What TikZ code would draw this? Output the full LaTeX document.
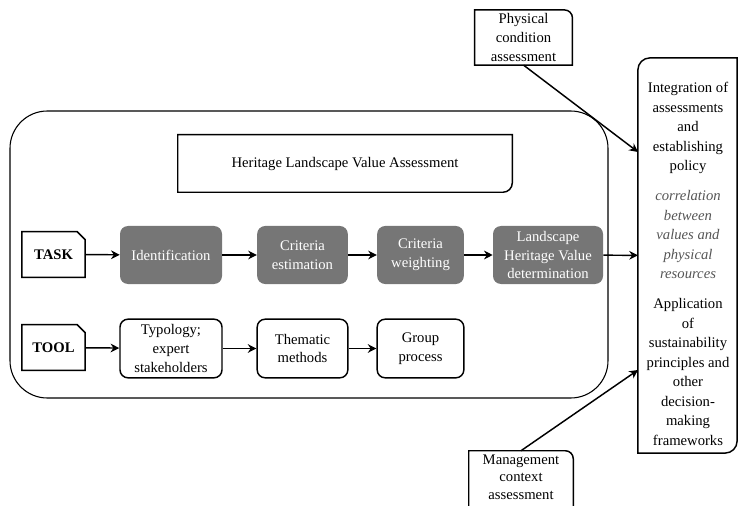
\documentclass[tikz,border=0pt]{standalone}
\usepackage{fontspec}
\setmainfont{Liberation Serif}
\usetikzlibrary{arrows.meta}
\definecolor{hlvgray}{RGB}{118,118,118}
\definecolor{hlvtext}{RGB}{85,85,85}

\begin{document}
\begin{tikzpicture}[x=0.75pt,y=-0.75pt,
    font=\fontsize{11}{14}\selectfont,
    stepbox/.style={fill=hlvgray,text=white,rounded corners=6pt,minimum height=43.5pt,align=center,inner sep=1pt},
    toolbox/.style={draw,line width=1.1pt,rounded corners=6pt,minimum height=44pt,align=center,inner sep=1pt},
    plainbox/.style={align=center,inner sep=1pt},
    outline/.style={line width=1.1pt},
    flow/.style={line width=1.1pt,-{Stealth[length=6.5pt,width=6.5pt]}}]
    \useasboundingbox (0,0) rectangle (739,506);
    \clip (0,0) rectangle (739,506);
    % frame of the value assessment
    \draw[line width=0.8pt,rounded corners=28pt] (10,111) rectangle (608,398);
    \node[plainbox,minimum width=250.5pt,minimum height=42.75pt] (title) at (345,163.5) {Heritage Landscape Value Assessment};
    \draw[outline] (title.north west) -- (title.north east) [rounded corners=7pt] -- (title.south east) [sharp corners] -- (title.south west) -- cycle;
    % task row
    \node[plainbox,minimum width=47pt,minimum height=34pt,font=\fontsize{11}{14}\selectfont\bfseries] (task) at (53.5,254.5) {TASK};
    \draw[outline] (task.south west) -- (task.north west) -- ([xshift=-6pt]task.north east) -- ([yshift=-6pt]task.north east) -- (task.south east) -- cycle;
    \node[stepbox,minimum width=76.5pt] (ident) at (171,255) {Identification};
    \node[stepbox,minimum width=68pt] (crest) at (302.5,255) {Criteria\\estimation};
    \node[stepbox,minimum width=65pt] (crweight) at (420.5,255) {Criteria\\weighting};
    \node[stepbox,minimum width=82.5pt] (lhv) at (548,255) {Landscape\\Heritage Value\\determination};
    % tool row
    \node[plainbox,minimum width=47pt,minimum height=34pt,font=\fontsize{11}{14}\selectfont\bfseries] (tool) at (53.5,347.5) {TOOL};
    \draw[outline] (tool.south west) -- (tool.north west) -- ([xshift=-6pt]tool.north east) -- ([yshift=-6pt]tool.north east) -- (tool.south east) -- cycle;
    \node[toolbox,minimum width=76.5pt] (typo) at (171,348.5) {Typology;\\expert\\stakeholders};
    \node[toolbox,minimum width=68pt] (thematic) at (302.5,348.5) {Thematic\\methods};
    \node[toolbox,minimum width=65pt] (group) at (420.5,348.5) {Group\\process};
    % integration
    \node[minimum width=74pt,minimum height=296pt] (integ) at (687.5,255.5) {};
    \draw[outline] (integ.south west) [rounded corners=9pt] -- (integ.north west) [sharp corners] -- (integ.north east) [rounded corners=9pt] -- (integ.south east) [sharp corners] -- cycle;
    \node[plainbox,font=\fontsize{11}{14.6}\selectfont] (integtext) at (688,264) {Integration of\\assessments\\and\\establishing\\policy\\[8pt]
      {\itshape\color{hlvtext}correlation}\\{\itshape\color{hlvtext}between}\\{\itshape\color{hlvtext}values and}\\{\itshape\color{hlvtext}physical}\\{\itshape\color{hlvtext}resources}\\[8pt]
      Application\\of\\sustainability\\principles and\\other\\decision-\\making\\frameworks};
    \coordinate (inphys) at (638,152);
    \coordinate (inmgmt) at (638,370);
    % outside assessments
    \node[plainbox,minimum width=73pt,minimum height=41pt] (phys) at (523.5,37.5) {Physical\\condition\\assessment};
    \draw[outline] (phys.south west) -- (phys.north west) [rounded corners=6pt] -- (phys.north east) [sharp corners] -- (phys.south east) -- cycle;
    \node[plainbox,minimum width=78pt,minimum height=39pt,font=\fontsize{11}{13.2}\selectfont] (mgmt) at (521,477) {Management\\context\\assessment};
    \draw[outline] ([yshift=-20pt]mgmt.south west) -- (mgmt.north west) [rounded corners=6pt] -- (mgmt.north east) [sharp corners] -- ([yshift=-20pt]mgmt.south east);
    % connectors
    \draw[flow] (task) -- (ident);
    \draw[flow] (ident) -- (crest);
    \draw[flow] (crest) -- (crweight);
    \draw[flow] (crweight) -- (lhv);
    \draw[flow] (lhv) -- (integ);
    \draw[flow] (tool) -- (typo);
    \draw[flow] (typo) -- (thematic);
    \draw[flow] (thematic) -- (group);
    \draw[flow] (phys.south) -- (inphys);
    \draw[flow] (mgmt.north) -- (inmgmt);
\end{tikzpicture}
\end{document}
